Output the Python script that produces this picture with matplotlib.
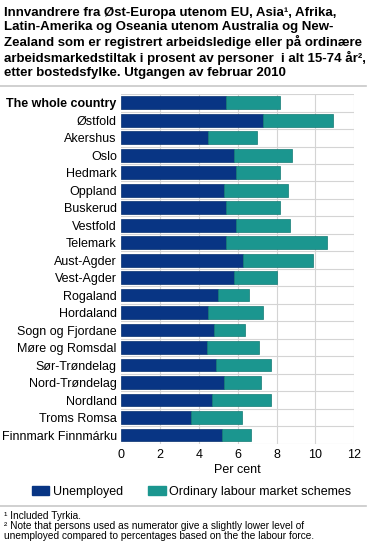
import matplotlib.pyplot as plt
from matplotlib.lines import Line2D
import numpy as np

plt.rcParams['font.family'] = ['Liberation Sans', 'DejaVu Sans']

# Data (per cent)
regions = ["The whole country", "Østfold", "Akershus", "Oslo", "Hedmark", "Oppland",
           "Buskerud", "Vestfold", "Telemark", "Aust-Agder", "Vest-Agder", "Rogaland",
           "Hordaland", "Sogn og Fjordane", "Møre og Romsdal", "Sør-Trøndelag",
           "Nord-Trøndelag", "Nordland", "Troms Romsa", "Finnmark Finnmárku"]
unemployed = [5.4, 7.3, 4.5, 5.8, 5.9, 5.3, 5.4, 5.9, 5.4, 6.3,
              5.8, 5.0, 4.5, 4.8, 4.4, 4.9, 5.3, 4.7, 3.6, 5.2]
schemes = [2.8, 3.6, 2.5, 3.0, 2.3, 3.3, 2.8, 2.8, 5.2, 3.6,
           2.2, 1.6, 2.8, 1.6, 2.7, 2.8, 1.9, 3.0, 2.6, 1.5]
xticks = [0, 2, 4, 6, 8, 10, 12]

dark_blue = "#083584"
teal = "#1b968f"

fig = plt.figure(figsize=(3.72, 5.5), dpi=100)
ax = fig.add_axes([0.3253, 0.193, 0.627, 0.636])

y = np.arange(len(regions))
ax.barh(y, unemployed, height=0.72, color=dark_blue, edgecolor="#06306f", linewidth=0.5, zorder=3)
ax.barh(y, schemes, left=unemployed, height=0.72, color=teal, edgecolor="#137a74", linewidth=0.5, zorder=3)

ax.set_ylim(len(regions) - 0.5, -0.5)
ax.set_xlim(0, 12)
ax.set_xticks(xticks)
ax.set_yticks(y)
ax.set_yticklabels(regions, fontsize=9)
ax.get_yticklabels()[0].set_fontweight("bold")
ax.tick_params(axis="x", labelsize=9, length=0, pad=4)
ax.tick_params(axis="y", length=0, pad=3)

# grid: vertical at ticks, horizontal between rows
for xv in xticks[1:]:
    ax.axvline(xv, color="#d4d4d4", linewidth=0.8, zorder=1)
for yv in np.arange(-0.5, len(regions), 1.0):
    ax.axhline(yv, color="#d4d4d4", linewidth=0.8, zorder=1)
for s in ax.spines.values():
    s.set_visible(False)

ax.set_xlabel("Per cent", fontsize=9, labelpad=2)

title = ("Innvandrere fra Øst-Europa utenom EU, Asia¹, Afrika,\n"
         "Latin-Amerika og Oseania utenom Australia og New-\n"
         "Zealand som er registrert arbeidsledige eller på ordinære\n"
         "arbeidsmarkedstiltak i prosent av personer  i alt 15-74 år²,\n"
         "etter bostedsfylke. Utgangen av februar 2010")
fig.text(0.011, 0.988, title, fontsize=9.5, fontweight="bold", va="top", ha="left",
         linespacing=1.22)

fig.add_artist(Line2D([0.0, 0.985], [0.843, 0.843], color="#c8c8c8", linewidth=1.2))
fig.add_artist(Line2D([0.0, 0.985], [0.080, 0.080], color="#c8c8c8", linewidth=1.2))

handles = [plt.Rectangle((0, 0), 1, 1, color=dark_blue),
           plt.Rectangle((0, 0), 1, 1, color=teal)]
fig.legend(handles, ["Unemployed", "Ordinary labour market schemes"], loc="center",
           bbox_to_anchor=(0.515, 0.106), ncol=2, frameon=False, fontsize=9,
           handlelength=1.4, handleheight=0.8, handletextpad=0.3, columnspacing=2.0)

fig.text(0.011, 0.061, "¹ Included Tyrkia.", fontsize=7.3, va="center")
fig.text(0.011, 0.043, "² Note that persons used as numerator give a slightly lower level of",
         fontsize=7.3, va="center")
fig.text(0.011, 0.025, "unemployed compared to percentages based on the the labour force.",
         fontsize=7.3, va="center")

fig.savefig("out.png", dpi=100)
